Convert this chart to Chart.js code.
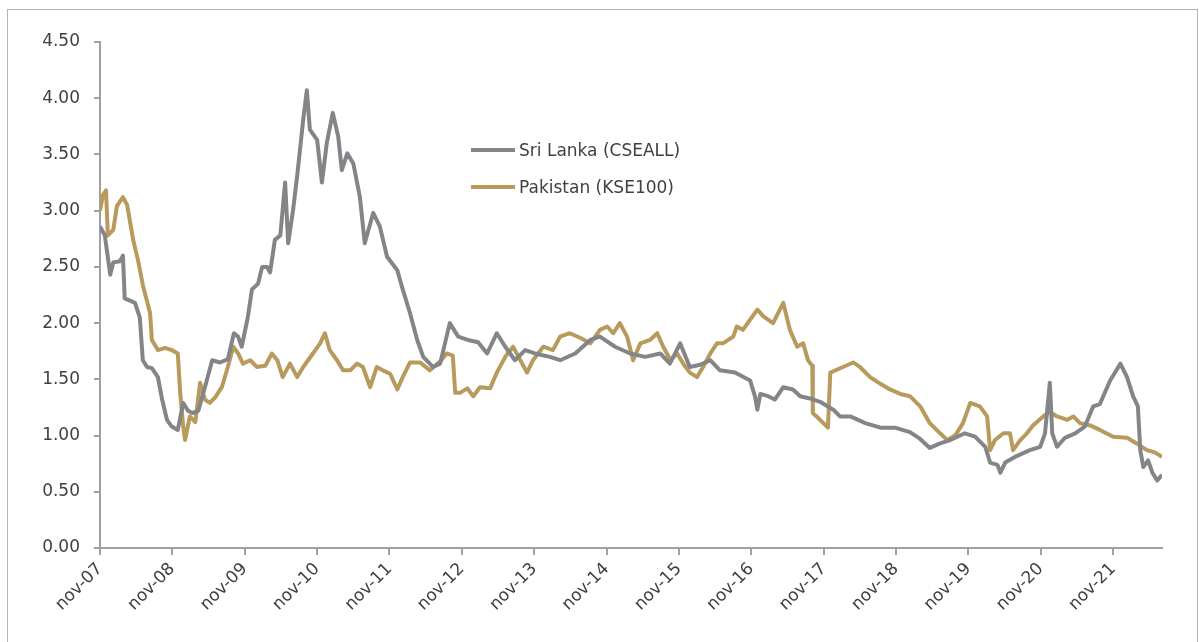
<!DOCTYPE html>
<html lang="en">
<head>
    <meta charset="UTF-8">
    <script src="https://cdn.jsdelivr.net/npm/chart.js@4.4.1/dist/chart.umd.min.js"></script>
    <title>Sri Lanka vs Pakistan</title>
    <style>
        html, body {
            margin: 0;
            padding: 0;
            background: #ffffff;
            font-family: "DejaVu Sans", sans-serif;
        }

        #frame {
            position: absolute;
            left: 7px;
            top: 9px;
            width: 1189px;
            height: 660px;
            border: 1px solid #b4b4b4;
        }

        #chart-box {
            position: absolute;
            left: 0;
            top: 0;
            width: 1199px;
            height: 642px;
        }

        .legend {
            position: absolute;
            left: 471px;
            color: #404040;
            font-size: 17px;
            line-height: 20px;
        }

        .legend span {
            display: inline-block;
            width: 44px;
            height: 4px;
            vertical-align: middle;
            margin-right: 4px;
            position: relative;
            top: -1px;
        }
    </style>
</head>

<body>
    <div id="frame"></div>
    <div id="chart-box">
        <canvas id="spreadChart" width="1199" height="642"></canvas>
    </div>
    <div class="legend" style="top: 140px;"><span style="background:#848589"></span>Sri Lanka (CSEALL)</div>
    <div class="legend" style="top: 177px;"><span style="background:#b79a5c"></span>Pakistan (KSE100)</div>
    <script>
        // x values are months since nov-07
        const tickMonths = [0, 12, 24, 36, 48, 60, 72, 84, 96, 108, 120, 132, 144, 156, 168];
        const tickLabels = ['nov-07', 'nov-08', 'nov-09', 'nov-10', 'nov-11', 'nov-12', 'nov-13',
            'nov-14', 'nov-15', 'nov-16', 'nov-17', 'nov-18', 'nov-19', 'nov-20', 'nov-21'];

        const sriLankaMonths = [0, 0.8, 1.7, 2.2, 3.3, 3.8, 4.1, 5.8, 6.6, 7.1, 7.8, 8.6, 9.6, 10.3, 11.1, 11.9,
            12.9, 13.8, 14.6, 15.3, 16.3, 17.4, 18.6, 19.9, 21.2, 22.2, 22.9, 23.5, 24.5, 25.2, 26.2, 26.9,
            27.7, 28.2, 29.0, 29.9, 30.7, 31.2, 32.0, 32.8, 33.7, 34.3, 34.8, 36.0, 36.8, 37.6, 38.6, 39.5,
            40.1, 41.0, 42.0, 43.1, 43.9, 45.3, 46.4, 47.6, 49.3, 50.2, 51.4, 52.6, 53.6, 55.2, 56.4, 58.0,
            59.4, 61.0, 62.7, 64.2, 65.8, 67.2, 68.8, 70.5, 72.1, 74.6, 76.3, 78.8, 81.3, 82.9, 85.4, 87.9,
            90.4, 92.9, 94.5, 96.2, 97.8, 99.5, 101.2, 102.8, 105.3, 107.8, 108.6, 109.0, 109.5, 110.8, 111.9,
            113.3, 114.9, 116.1, 117.7, 119.4, 121.6, 122.7, 124.4, 126.9, 129.4, 131.8, 134.3, 136.0, 137.6,
            139.3, 141.0, 143.4, 145.1, 146.8, 147.6, 148.8, 149.3, 150.1, 151.7, 154.2, 155.9, 156.7, 157.5,
            157.9, 158.7, 160.0, 161.7, 163.3, 164.7, 165.8, 167.5, 169.2, 170.3, 171.3, 172.1, 172.5, 173.0,
            173.8, 174.5, 175.3, 176.1];
        const sriLankaValues = [2.86, 2.78, 2.43, 2.54, 2.55, 2.60, 2.22, 2.18, 2.05, 1.67, 1.61, 1.60, 1.52, 1.32, 1.14, 1.08,
            1.05, 1.29, 1.22, 1.20, 1.22, 1.43, 1.67, 1.65, 1.68, 1.91, 1.88, 1.79, 2.05, 2.30, 2.35, 2.50,
            2.50, 2.45, 2.74, 2.78, 3.25, 2.71, 3.00, 3.36, 3.81, 4.07, 3.72, 3.63, 3.25, 3.60, 3.87, 3.66,
            3.36, 3.51, 3.42, 3.12, 2.71, 2.98, 2.86, 2.59, 2.47, 2.30, 2.09, 1.85, 1.70, 1.61, 1.64, 2.00,
            1.88, 1.85, 1.83, 1.73, 1.91, 1.79, 1.67, 1.76, 1.73, 1.70, 1.67, 1.73, 1.85, 1.88, 1.79, 1.73,
            1.70, 1.73, 1.64, 1.82, 1.61, 1.63, 1.67, 1.58, 1.56, 1.49, 1.35, 1.23, 1.37, 1.35, 1.32,
            1.43, 1.41, 1.35, 1.33, 1.30, 1.23, 1.17, 1.17, 1.11, 1.07, 1.07, 1.03, 0.97, 0.89,
            0.93, 0.96, 1.02, 0.99, 0.90, 0.76, 0.74, 0.67, 0.76, 0.81, 0.87, 0.90, 1.02, 1.47,
            1.02, 0.90, 0.98, 1.02, 1.08, 1.26, 1.28, 1.49, 1.64, 1.52, 1.35, 1.26, 0.87, 0.72,
            0.78, 0.67, 0.60, 0.65];

        const pakistanMonths = [0, 0.5, 1.0, 1.3, 2.2, 2.8, 3.8, 4.5, 5.5, 6.3, 7.1, 8.3, 8.6, 9.6, 10.8, 11.9,
            12.9, 13.3, 13.8, 14.1, 14.9, 15.8, 16.6, 17.4, 18.2, 19.1, 20.2, 21.2, 22.1, 22.9, 23.7, 24.9,
            26.0, 27.4, 28.5, 29.4, 30.3, 31.5, 32.7, 33.7, 35.3, 36.5, 37.3, 38.1, 39.3, 40.3, 41.5, 42.6,
            43.6, 44.8, 45.9, 46.9, 48.1, 49.3, 50.2, 51.4, 53.1, 54.7, 56.4, 57.5, 58.5, 58.9, 59.7, 60.9,
            61.9, 63.0, 64.7, 65.8, 67.2, 68.5, 69.7, 70.8, 71.8, 73.5, 75.1, 76.3, 77.9, 79.6, 81.3, 82.9,
            84.1, 85.1, 86.2, 87.4, 88.4, 89.6, 91.2, 92.4, 93.4, 94.6, 95.7, 96.7, 97.8, 99.0, 100.0, 101.2,
            102.3, 103.3, 105.0, 105.6, 106.6, 107.8, 109.0, 110.0, 111.6, 113.3, 114.4, 115.6, 116.6, 117.4,
            118.1, 118.2, 119.4, 120.7, 121.1, 123.2, 124.9, 126.0, 127.7, 129.4, 131.0, 132.7, 134.3, 136.0,
            137.6, 139.3, 140.5, 141.8, 143.1, 144.3, 145.9, 147.1, 147.6, 148.4, 149.8, 150.9, 151.4, 152.6,
            153.7, 154.7, 156.4, 157.5, 158.7, 160.4, 161.4, 162.5, 164.2, 165.8, 168.0, 170.3, 171.9, 173.6,
            174.9, 176.1];
        const pakistanValues = [3.00, 3.14, 3.18, 2.78, 2.83, 3.04, 3.12, 3.05, 2.74, 2.56, 2.34, 2.09, 1.85, 1.76, 1.78, 1.76,
            1.73, 1.38, 1.08, 0.96, 1.17, 1.12, 1.47, 1.32, 1.29, 1.34, 1.43, 1.61, 1.79, 1.73, 1.64, 1.67,
            1.61, 1.62, 1.73, 1.67, 1.52, 1.64, 1.52, 1.61, 1.73, 1.82, 1.91, 1.76, 1.67, 1.58, 1.58, 1.64,
            1.61, 1.43, 1.61, 1.58, 1.55, 1.41, 1.52, 1.65, 1.65, 1.58, 1.66, 1.73, 1.71, 1.38, 1.38, 1.42,
            1.35, 1.43, 1.42, 1.56, 1.70, 1.79, 1.67, 1.56, 1.67, 1.79, 1.76, 1.88, 1.91, 1.87, 1.82, 1.94,
            1.97, 1.91, 2.00, 1.88, 1.67, 1.82, 1.85, 1.91, 1.79, 1.67, 1.73, 1.64, 1.56, 1.52, 1.61, 1.73,
            1.82, 1.82, 1.88, 1.97, 1.94, 2.03, 2.12, 2.06, 2.00, 2.18, 1.94, 1.79, 1.82, 1.67,
            1.62, 1.20, 1.14, 1.07, 1.56, 1.61, 1.65, 1.61, 1.52, 1.46, 1.41, 1.37, 1.35, 1.26,
            1.11, 1.02, 0.96, 1.00, 1.11, 1.29, 1.26, 1.17, 0.87, 0.96, 1.02, 1.02, 0.87, 0.96,
            1.02, 1.09, 1.17, 1.21, 1.17, 1.14, 1.17, 1.11, 1.09, 1.05, 0.99, 0.98, 0.93, 0.87,
            0.85, 0.81];

        function toPoints(xs, ys) {
            return xs.map((x, i) => ({ x: x, y: ys[i] }));
        }

        const axisColor = '#a0a0a0';
        const labelColor = '#404040';
        const tickFont = { family: 'DejaVu Sans', size: 17 };

        const ctx = document.getElementById('spreadChart').getContext('2d');
        new Chart(ctx, {
            type: 'line',
            data: {
                datasets: [
                    {
                        label: 'Sri Lanka (CSEALL)',
                        data: toPoints(sriLankaMonths, sriLankaValues),
                        borderColor: '#848589',
                        borderWidth: 4,
                        pointRadius: 0,
                        tension: 0,
                        borderJoinStyle: 'round',
                        fill: false
                    },
                    {
                        label: 'Pakistan (KSE100)',
                        data: toPoints(pakistanMonths, pakistanValues),
                        borderColor: '#b79a5c',
                        borderWidth: 4,
                        pointRadius: 0,
                        tension: 0,
                        borderJoinStyle: 'round',
                        fill: false
                    }
                ]
            },
            options: {
                responsive: false,
                animation: false,
                layout: { padding: { left: 0, top: 42, right: 37, bottom: 0 } },
                plugins: {
                    legend: { display: false },
                    tooltip: { enabled: false }
                },
                scales: {
                    x: {
                        type: 'linear',
                        min: 0,
                        max: 176.1,
                        afterBuildTicks: scale => {
                            scale.ticks = tickMonths.map(v => ({ value: v }));
                        },
                        afterFit: scale => { scale.height = 94; },
                        border: { display: true, color: axisColor, width: 2 },
                        grid: { display: true, drawOnChartArea: false, drawTicks: true, tickLength: 7, color: axisColor, lineWidth: 2 },
                        ticks: {
                            autoSkip: false,
                            maxRotation: 45,
                            minRotation: 45,
                            padding: 4,
                            color: labelColor,
                            font: tickFont,
                            callback: (value) => tickLabels[tickMonths.indexOf(value)]
                        }
                    },
                    y: {
                        min: 0,
                        max: 4.5,
                        afterFit: scale => { scale.width = 100; },
                        border: { display: true, color: axisColor, width: 2 },
                        grid: { display: true, drawOnChartArea: false, drawTicks: true, tickLength: 6, color: axisColor, lineWidth: 2 },
                        ticks: {
                            stepSize: 0.5,
                            padding: 14,
                            color: labelColor,
                            font: tickFont,
                            callback: (value) => value.toFixed(2)
                        }
                    }
                }
            }
        });
    </script>
</body>
</html>
